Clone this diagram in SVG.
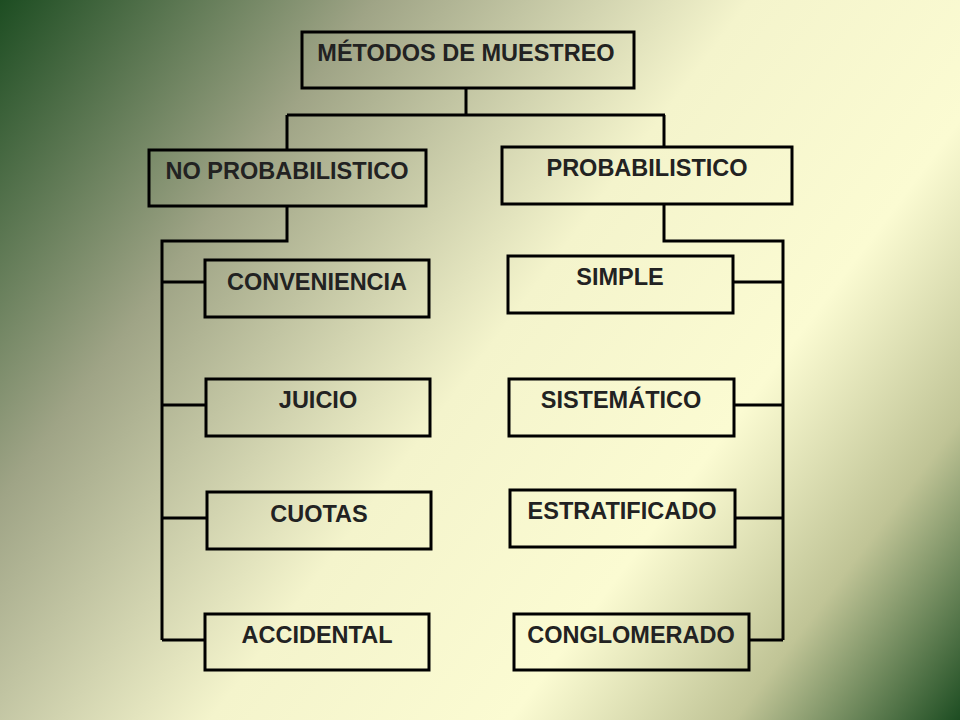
<svg xmlns="http://www.w3.org/2000/svg" width="960" height="720" viewBox="0 0 960 720">
<defs>
<linearGradient id="bg" x1="0" y1="0" x2="960" y2="720" gradientUnits="userSpaceOnUse">
<stop offset="0" stop-color="#1d4d22"/>
<stop offset="0.25" stop-color="#9fa486"/>
<stop offset="0.5" stop-color="#f4f4cc"/>
<stop offset="0.7" stop-color="#fbfbd2"/>
<stop offset="0.85" stop-color="#c0c496"/>
<stop offset="1" stop-color="#1d4d22"/>
</linearGradient>
<style>
.b{fill:none;stroke:#000;stroke-width:3}
.l{fill:none;stroke:#000;stroke-width:3}
.t{font-family:"Liberation Sans",Arial,sans-serif;font-weight:bold;font-size:23.5px;fill:#222;text-anchor:middle}
</style>
</defs>
<rect width="960" height="720" fill="url(#bg)"/>
<g id="connectors">
<path class="l" d="M466 88V115M287 115H665M287 115V150M664 115V147"/>
<path class="l" d="M287 206V241H162V640M162 282H205M162 405H206M162 518H207M162 640H205"/>
<path class="l" d="M664 204V241H783V640M733 282H783M734 405H783M735 518H783M749 640H783"/>
</g>
<g id="metodos"><rect class="b" x="302" y="32" width="332" height="56"/><text class="t" x="466" y="61">MÉTODOS DE MUESTREO</text></g>
<g id="noprob"><rect class="b" x="149" y="150" width="277" height="56"/><text class="t" x="287" y="179">NO PROBABILISTICO</text></g>
<g id="prob"><rect class="b" x="502" y="147" width="290" height="57"/><text class="t" x="647" y="176">PROBABILISTICO</text></g>
<g id="conveniencia"><rect class="b" x="205" y="260" width="224" height="57"/><text class="t" x="317" y="290">CONVENIENCIA</text></g>
<g id="juicio"><rect class="b" x="206" y="379" width="224" height="57"/><text class="t" x="318" y="408">JUICIO</text></g>
<g id="cuotas"><rect class="b" x="207" y="492" width="224" height="57"/><text class="t" x="319" y="522">CUOTAS</text></g>
<g id="accidental"><rect class="b" x="205" y="614" width="224" height="56"/><text class="t" x="317" y="643">ACCIDENTAL</text></g>
<g id="simple"><rect class="b" x="508" y="256" width="225" height="57"/><text class="t" x="620" y="285">SIMPLE</text></g>
<g id="sistematico"><rect class="b" x="509" y="379" width="225" height="57"/><text class="t" x="621" y="408">SISTEMÁTICO</text></g>
<g id="estratificado"><rect class="b" x="510" y="490" width="225" height="57"/><text class="t" x="622" y="519">ESTRATIFICADO</text></g>
<g id="conglomerado"><rect class="b" x="514" y="614" width="235" height="56"/><text class="t" x="631" y="643">CONGLOMERADO</text></g>
</svg>
